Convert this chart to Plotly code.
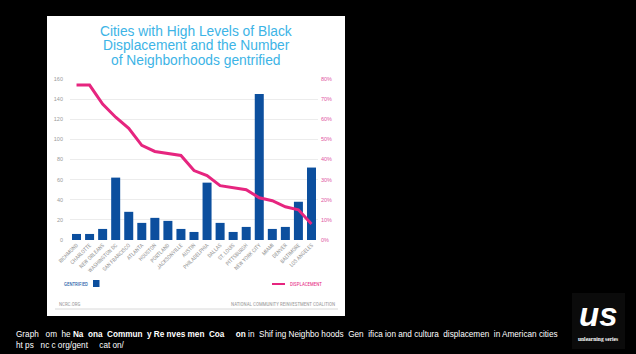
import plotly.graph_objects as go

W, H = 636, 354

cities = ["RICHMOND", "CHARLOTTE", "NEW ORLEANS", "WASHINGTON DC", "SAN FRANCISCO",
          "ATLANTA", "HOUSTON", "PORTLAND", "JACKSONVILLE", "AUSTIN", "PHILADELPHIA",
          "DALLAS", "ST. LOUIS", "PITTSBURGH", "NEW YORK CITY", "MIAMI", "DENVER",
          "BALTIMORE", "LOS ANGELES"]
gentrified = [6, 6, 11, 62, 28, 17, 22, 19, 11, 8, 57, 17, 8, 13, 145, 11, 13, 38, 72]
displacement = [77, 77, 67.5, 61, 55.5, 47, 44, 43, 42, 34.5, 32, 27, 26, 25, 21, 19.5, 16.5, 15, 8]
left_ticks = [0, 20, 40, 60, 80, 100, 120, 140, 160]
right_ticks = [0, 10, 20, 30, 40, 50, 60, 70, 80]

title_lines = ["Cities with High Levels of Black",
               "Displacement and the Number",
               "of Neighborhoods gentrified"]
caption_1 = ("Graph   om  he <b>Na  ona  Commun  y Re nves men  Coa     on</b> in  "
             "Shif ing Neighbo hoods  Gen  ifica ion and cultura  displacemen  in American cities")
caption_2 = "ht ps   nc c org/gent     cat on/"

BLUE = "#0c4f9e"
PINK = "#e6257f"
TITLE_C = "#3db4e6"
GRAY = "#9a9a9a"
NARROW = "Liberation Sans Narrow, Roboto Condensed, Liberation Sans"


def px(x):
    return x / W


def py(y):
    return 1 - y / H


fig = go.Figure()
fig.add_trace(go.Bar(x=cities, y=gentrified, marker=dict(color=BLUE, line=dict(width=0)),
                     name="GENTRIFIED", yaxis="y"))
fig.add_trace(go.Scatter(x=cities, y=displacement, mode="lines",
                         line=dict(color=PINK, width=3), name="DISPLACEMENT", yaxis="y2"))

shapes = [
    dict(type="rect", xref="paper", yref="paper", x0=px(47), x1=px(345), y0=py(316), y1=py(16),
         fillcolor="white", line=dict(width=0), layer="below"),
    dict(type="line", xref="paper", yref="paper", x0=px(55), x1=px(338), y0=py(309), y1=py(309),
         line=dict(color="#d8d8d8", width=1)),
    dict(type="rect", xref="paper", yref="paper", x0=px(93), x1=px(99.5), y0=py(287), y1=py(280),
         fillcolor=BLUE, line=dict(width=0)),
    dict(type="line", xref="paper", yref="paper", x0=px(272), x1=px(285), y0=py(284), y1=py(284),
         line=dict(color=PINK, width=2)),
    dict(type="rect", xref="paper", yref="paper", x0=px(572), x1=px(625), y0=py(349), y1=py(293),
         fillcolor="#0b0b0b", line=dict(width=0)),
]

annotations = []
for i, t in enumerate(title_lines):
    annotations.append(dict(text=t, xref="paper", yref="paper", x=px(196), y=py(31 + i * 14.6),
                            xanchor="center", yanchor="middle", showarrow=False,
                            font=dict(family="Liberation Sans, Arial", size=13.8,
                                      color=TITLE_C)))
annotations += [
    dict(text="GENTRIFIED", xref="paper", yref="paper", x=px(90), y=py(284), xanchor="right",
         yanchor="middle", showarrow=False, font=dict(family=NARROW, size=5, color=BLUE)),
    dict(text="DISPLACEMENT", xref="paper", yref="paper", x=px(288), y=py(284), xanchor="left",
         yanchor="middle", showarrow=False, font=dict(family=NARROW, size=5, color=PINK)),
    dict(text="NCRC.ORG", xref="paper", yref="paper", x=px(57), y=py(304), xanchor="left",
         yanchor="middle", showarrow=False, font=dict(family=NARROW, size=5, color=GRAY)),
    dict(text="NATIONAL COMMUNITY REINVESTMENT COALITION", xref="paper", yref="paper",
         x=px(337), y=py(304), xanchor="right", yanchor="middle", showarrow=False,
         font=dict(family=NARROW, size=5, color=GRAY)),
    dict(text=caption_1, xref="paper", yref="paper", x=px(14), y=py(334), xanchor="left",
         yanchor="middle", showarrow=False,
         font=dict(family="Liberation Sans, Arial", size=8.2, color="white")),
    dict(text=caption_2, xref="paper", yref="paper", x=px(14), y=py(345), xanchor="left",
         yanchor="middle", showarrow=False,
         font=dict(family="Liberation Sans, Arial", size=8.2, color="white")),
    dict(text="<b><i>us</i></b>", xref="paper", yref="paper", x=px(598), y=py(314),
         xanchor="center", yanchor="middle", showarrow=False,
         font=dict(family="Liberation Sans, Arial", size=33, color="white")),
    dict(text="<b>unlearning series</b>", xref="paper", yref="paper", x=px(598), y=py(339),
         xanchor="center", yanchor="middle", showarrow=False,
         font=dict(family="Liberation Serif, serif", size=5.5, color="white")),
]

fig.update_layout(
    width=W, height=H, autosize=False,
    margin=dict(l=0, r=0, t=0, b=0, pad=0),
    paper_bgcolor="black", plot_bgcolor="rgba(0,0,0,0)",
    showlegend=False, bargap=0.31,
    shapes=shapes, annotations=annotations,
    xaxis=dict(domain=[px(70), px(318)], tickangle=-45, type="category", automargin=False,
               tickfont=dict(family=NARROW, size=5.5, color=GRAY),
               showgrid=False, showline=False, ticks=""),
    yaxis=dict(domain=[py(240), py(79)], range=[0, 160], tickvals=left_ticks, automargin=False,
               tickfont=dict(family="Liberation Sans", size=5.5, color=GRAY),
               gridcolor="#ececec", gridwidth=1, zeroline=False, showline=False,
               ticklabelstandoff=6),
    yaxis2=dict(domain=[py(240), py(79)], range=[0, 80], tickvals=right_ticks, automargin=False,
                ticktext=[f"{v}%" for v in right_ticks], overlaying="y", side="right",
                tickfont=dict(family="Liberation Sans", size=5.5, color="#e0589f"),
                showgrid=False, zeroline=False, showline=False, ticklabelstandoff=2),
)

fig.write_html("out.html", config=dict(displayModeBar=False),
               post_script="document.body.style.margin='0';document.body.style.background='black';")
